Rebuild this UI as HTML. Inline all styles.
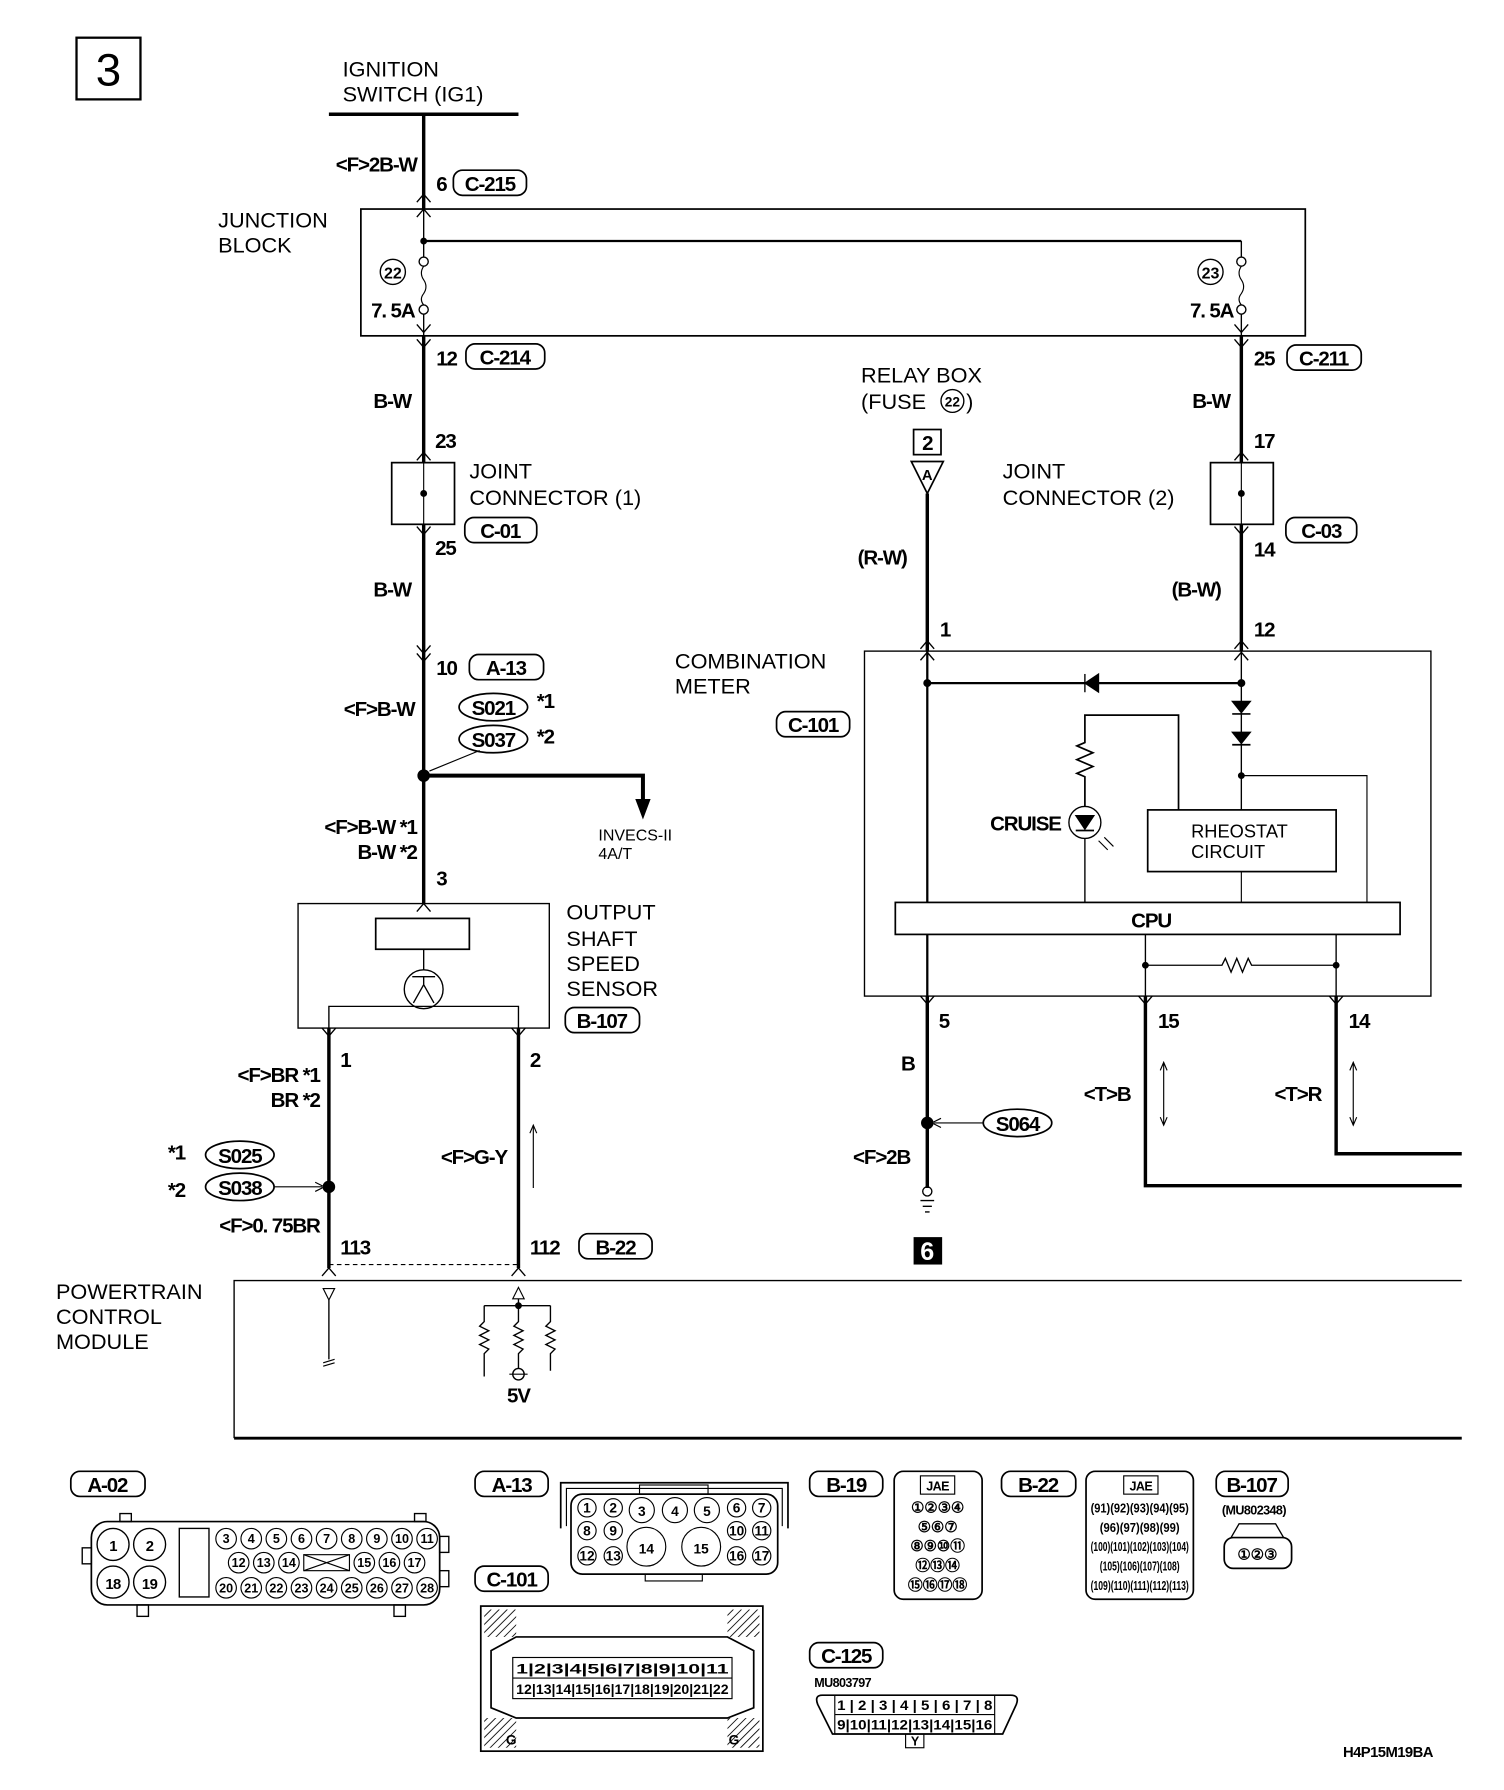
<!DOCTYPE html>
<html><head><meta charset="utf-8"><style>
html,body{margin:0;padding:0;background:#fff;}
svg{display:block}
text{font-family:"Liberation Sans",sans-serif;fill:#000}
.n{font-size:19px}
.c{font-size:18px;font-weight:bold;letter-spacing:-1px}
.s{font-size:13px;font-weight:bold;letter-spacing:-0.5px}
.t{font-size:11px;font-weight:bold;letter-spacing:-0.5px}
</style></head><body>
<svg width="1504" height="1790" viewBox="0 0 1317 1567" preserveAspectRatio="none" xmlns="http://www.w3.org/2000/svg" stroke="#000" fill="none">
<!-- title box -->
<rect x="67" y="33" width="56" height="54" stroke-width="2"/>
<text x="95" y="75" font-size="40" text-anchor="middle" stroke="none">3</text>

<!-- ignition -->
<text x="300" y="67" class="n" stroke="none">IGNITION</text>
<text x="300" y="89" class="n" stroke="none">SWITCH (IG1)</text>
<line x1="288" y1="100" x2="454" y2="100" stroke-width="3"/>
<line x1="371" y1="100" x2="371" y2="183" stroke-width="3"/>
<text x="365" y="150" class="c" text-anchor="end" stroke="none">&lt;F&gt;2B-W</text>
<text x="382" y="167" class="c" stroke="none">6</text>
<rect x="397" y="149" width="64" height="22" rx="8" stroke-width="1.5"/>
<text x="429" y="167" class="c" text-anchor="middle" stroke="none">C-215</text>
<path d="M365 177 L371 170 L377 177 M365 190 L371 183 L377 190" stroke-width="1.2"/>

<!-- junction block -->
<text x="191" y="199" class="n" stroke="none">JUNCTION</text>
<text x="191" y="221" class="n" stroke="none">BLOCK</text>
<rect x="316" y="183" width="827" height="111" stroke-width="1.5"/>
<line x1="371" y1="183" x2="371" y2="225" stroke-width="1.2"/>
<line x1="371" y1="211" x2="1087" y2="211" stroke-width="2"/>
<circle cx="371" cy="211" r="2.5" fill="#000"/>
<line x1="1087" y1="211" x2="1087" y2="225" stroke-width="1.2"/>
<circle cx="371" cy="229" r="4" stroke-width="1.2"/>
<path d="M371 233 q-4 6 0 12 q4 6 0 12 q-4 5 0 10" stroke-width="1"/>
<circle cx="371" cy="271" r="4" stroke-width="1.2"/>
<line x1="371" y1="275" x2="371" y2="294" stroke-width="1.2"/>
<circle cx="344" cy="238" r="11" stroke-width="1.2"/>
<text x="344" y="244" text-anchor="middle" stroke="none" font-size="14" font-weight="bold">22</text>
<text x="325" y="278" class="c" stroke="none">7. 5A</text>
<circle cx="1087" cy="229" r="4" stroke-width="1.2"/>
<path d="M1087 233 q-4 6 0 12 q4 6 0 12 q-4 5 0 10" stroke-width="1"/>
<circle cx="1087" cy="271" r="4" stroke-width="1.2"/>
<line x1="1087" y1="275" x2="1087" y2="294" stroke-width="1.2"/>
<circle cx="1060" cy="238" r="11" stroke-width="1.2"/>
<text x="1060" y="244" text-anchor="middle" stroke="none" font-size="14" font-weight="bold">23</text>
<text x="1042" y="278" class="c" stroke="none">7. 5A</text>
<path d="M365 284 L371 291 L377 284 M365 297 L371 304 L377 297" stroke-width="1.2"/>
<path d="M1081 284 L1087 291 L1093 284 M1081 297 L1087 304 L1093 297" stroke-width="1.2"/>

<!-- left column -->
<line x1="371" y1="294" x2="371" y2="405" stroke-width="3"/>
<text x="382" y="320" class="c" stroke="none">12</text>
<rect x="408" y="301" width="69" height="22" rx="8" stroke-width="1.5"/>
<text x="442" y="319" class="c" text-anchor="middle" stroke="none">C-214</text>
<text x="327" y="357" class="c" stroke="none">B-W</text>
<text x="381" y="392" class="c" stroke="none">23</text>
<path d="M365 403 L371 396 L377 403" stroke-width="1.2"/>
<rect x="343" y="405" width="55" height="54" stroke-width="1.5"/>
<line x1="371" y1="405" x2="371" y2="459" stroke-width="1"/>
<circle cx="371" cy="432" r="2.5" fill="#000"/>
<text x="411" y="419" class="n" stroke="none">JOINT</text>
<text x="411" y="442" class="n" stroke="none">CONNECTOR (1)</text>
<rect x="407" y="453" width="63" height="22" rx="8" stroke-width="1.5"/>
<text x="438" y="471" class="c" text-anchor="middle" stroke="none">C-01</text>
<text x="381" y="486" class="c" stroke="none">25</text>
<path d="M365 461 L371 468 L377 461" stroke-width="1.2"/>
<line x1="371" y1="459" x2="371" y2="791" stroke-width="3"/>
<text x="327" y="522" class="c" stroke="none">B-W</text>
<path d="M365 565 L371 572 L377 565 M365 572 L371 579 L377 572" stroke-width="1.2"/>
<text x="382" y="591" class="c" stroke="none">10</text>
<rect x="411" y="573" width="65" height="22" rx="8" stroke-width="1.5"/>
<text x="443" y="591" class="c" text-anchor="middle" stroke="none">A-13</text>
<text x="363" y="627" class="c" text-anchor="end" stroke="none">&lt;F&gt;B-W</text>
<ellipse cx="432" cy="619" rx="30" ry="12" stroke-width="1.5"/>
<text x="432" y="626" class="c" text-anchor="middle" stroke="none">S021</text>
<text x="470" y="620" class="c" stroke="none">*1</text>
<ellipse cx="432" cy="647" rx="30" ry="12" stroke-width="1.5"/>
<text x="432" y="654" class="c" text-anchor="middle" stroke="none">S037</text>
<text x="470" y="651" class="c" stroke="none">*2</text>
<line x1="420" y1="657" x2="376" y2="675" stroke-width="1"/>
<circle cx="371" cy="679" r="5" fill="#000"/>
<path d="M371 679 H563 V700" stroke-width="3.5"/>
<path d="M557 700 L569 700 L563 716 Z" fill="#000"/>
<text x="524" y="736" font-size="14" stroke="none">INVECS-II</text>
<text x="524" y="752" font-size="14" stroke="none">4A/T</text>
<text x="365" y="730" class="c" text-anchor="end" stroke="none">&lt;F&gt;B-W *1</text>
<text x="365" y="752" class="c" text-anchor="end" stroke="none">B-W *2</text>
<text x="382" y="775" class="c" stroke="none">3</text>
<path d="M365 798 L371 791 L377 798" stroke-width="1.2"/>

<!-- sensor -->
<rect x="261" y="791" width="220" height="109" stroke-width="1.2"/>
<rect x="329" y="804" width="82" height="27" stroke-width="1.5"/>
<line x1="371" y1="831" x2="371" y2="849" stroke-width="1.2"/>
<circle cx="371" cy="866" r="17" stroke-width="1.2"/>
<path d="M361 855 H381 M371 855 V862 M371 862 L362 878 M371 862 L380 878" stroke-width="1.2"/>
<path d="M288 900 V881 H454 V900" stroke-width="1.2"/>
<text x="496" y="805" class="n" stroke="none">OUTPUT</text>
<text x="496" y="828" class="n" stroke="none">SHAFT</text>
<text x="496" y="850" class="n" stroke="none">SPEED</text>
<text x="496" y="872" class="n" stroke="none">SENSOR</text>
<rect x="495" y="882" width="65" height="22" rx="8" stroke-width="1.5"/>
<text x="527" y="900" class="c" text-anchor="middle" stroke="none">B-107</text>
<path d="M282 900 L288 907 L294 900 M448 900 L454 907 L460 900" stroke-width="1.2"/>
<line x1="288" y1="900" x2="288" y2="1110" stroke-width="3"/>
<line x1="454" y1="900" x2="454" y2="1110" stroke-width="3"/>
<text x="298" y="934" class="c" stroke="none">1</text>
<text x="464" y="934" class="c" stroke="none">2</text>
<text x="280" y="947" class="c" text-anchor="end" stroke="none">&lt;F&gt;BR *1</text>
<text x="280" y="969" class="c" text-anchor="end" stroke="none">BR *2</text>
<text x="147" y="1015" class="c" stroke="none">*1</text>
<text x="147" y="1048" class="c" stroke="none">*2</text>
<ellipse cx="210" cy="1011" rx="30" ry="12" stroke-width="1.5"/>
<text x="210" y="1018" class="c" text-anchor="middle" stroke="none">S025</text>
<ellipse cx="210" cy="1039" rx="30" ry="12" stroke-width="1.5"/>
<text x="210" y="1046" class="c" text-anchor="middle" stroke="none">S038</text>
<line x1="240" y1="1039" x2="282" y2="1039" stroke-width="1"/>
<path d="M276 1035 L284 1039 L276 1043" stroke-width="1"/>
<circle cx="288" cy="1039" r="5" fill="#000"/>
<text x="280" y="1079" class="c" text-anchor="end" stroke="none">&lt;F&gt;0. 75BR</text>
<text x="444" y="1019" class="c" text-anchor="end" stroke="none">&lt;F&gt;G-Y</text>
<line x1="467" y1="985" x2="467" y2="1040" stroke-width="1"/>
<path d="M464 992 L467 985 L470 992" stroke-width="1"/>
<text x="298" y="1098" class="c" stroke="none">113</text>
<text x="464" y="1098" class="c" stroke="none">112</text>
<rect x="507" y="1080" width="64" height="22" rx="8" stroke-width="1.5"/>
<text x="539" y="1098" class="c" text-anchor="middle" stroke="none">B-22</text>
<line x1="288" y1="1107" x2="454" y2="1107" stroke-width="1" stroke-dasharray="4,3"/>
<path d="M282 1117 L288 1110 L294 1117 M448 1117 L454 1110 L460 1117" stroke-width="1.2"/>

<!-- PCM -->
<text x="49" y="1137" class="n" stroke="none">POWERTRAIN</text>
<text x="49" y="1159" class="n" stroke="none">CONTROL</text>
<text x="49" y="1181" class="n" stroke="none">MODULE</text>
<path d="M1280 1121 H205 V1259" stroke-width="1.2"/>
<line x1="205" y1="1259" x2="1280" y2="1259" stroke-width="2.5"/>
<path d="M283 1128 L293 1128 L288 1138 Z" stroke-width="1"/>
<line x1="288" y1="1138" x2="288" y2="1190" stroke-width="1.2"/>
<path d="M283 1193 L293 1190 M283 1196 L293 1193" stroke-width="1"/>
<path d="M449 1137 L459 1137 L454 1127 Z" stroke-width="1"/>
<line x1="454" y1="1137" x2="454" y2="1143" stroke-width="1.2"/>
<circle cx="454" cy="1143" r="2.5" fill="#000"/>
<line x1="424" y1="1143" x2="482" y2="1143" stroke-width="1.2"/>
<path d="M424 1143 V1157 l-4 4 l8 4 l-8 4 l8 4 l-8 4 l8 4 l-4 4 V1205" stroke-width="1.2"/>
<path d="M454 1143 V1157 l-4 4 l8 4 l-8 4 l8 4 l-8 4 l8 4 l-4 4 V1198" stroke-width="1.2"/>
<path d="M482 1143 V1157 l-4 4 l8 4 l-8 4 l8 4 l-8 4 l8 4 l-4 4 V1200" stroke-width="1.2"/>
<circle cx="454" cy="1203" r="5" stroke-width="1.2"/>
<line x1="446" y1="1203" x2="462" y2="1203" stroke-width="1"/>
<text x="454" y="1228" class="c" text-anchor="middle" stroke="none">5V</text>

<!-- right column -->
<line x1="1087" y1="294" x2="1087" y2="405" stroke-width="3"/>
<text x="1098" y="320" class="c" stroke="none">25</text>
<rect x="1127" y="302" width="65" height="22" rx="8" stroke-width="1.5"/>
<text x="1159" y="320" class="c" text-anchor="middle" stroke="none">C-211</text>
<text x="1044" y="357" class="c" stroke="none">B-W</text>
<text x="1098" y="392" class="c" stroke="none">17</text>
<path d="M1081 403 L1087 396 L1093 403" stroke-width="1.2"/>
<rect x="1060" y="405" width="55" height="54" stroke-width="1.5"/>
<line x1="1087" y1="405" x2="1087" y2="459" stroke-width="1"/>
<circle cx="1087" cy="432" r="2.5" fill="#000"/>
<text x="878" y="419" class="n" stroke="none">JOINT</text>
<text x="878" y="442" class="n" stroke="none">CONNECTOR (2)</text>
<rect x="1126" y="453" width="62" height="22" rx="8" stroke-width="1.5"/>
<text x="1157" y="471" class="c" text-anchor="middle" stroke="none">C-03</text>
<text x="1098" y="487" class="c" stroke="none">14</text>
<path d="M1081 461 L1087 468 L1093 461" stroke-width="1.2"/>
<line x1="1087" y1="459" x2="1087" y2="570" stroke-width="3"/>
<text x="1026" y="522" class="c" stroke="none">(B-W)</text>
<text x="1098" y="557" class="c" stroke="none">12</text>
<path d="M1081 568 L1087 561 L1093 568 M1081 578 L1087 571 L1093 578" stroke-width="1.2"/>

<!-- relay box -->
<text x="754" y="335" class="n" stroke="none">RELAY BOX</text>
<text x="754" y="358" class="n" stroke="none">(FUSE</text>
<circle cx="834" cy="351" r="10" stroke-width="1.2"/>
<text x="834" y="356" font-size="12" font-weight="bold" text-anchor="middle" stroke="none">22</text>
<text x="846" y="358" class="n" stroke="none">)</text>
<rect x="800" y="376" width="24" height="22" stroke-width="1.5"/>
<text x="812" y="394" class="c" text-anchor="middle" stroke="none">2</text>
<path d="M798 404 L826 404 L812 432 Z" stroke-width="1.5"/>
<text x="812" y="420" font-size="13" font-weight="bold" text-anchor="middle" stroke="none">A</text>
<line x1="812" y1="432" x2="812" y2="570" stroke-width="3"/>
<text x="751" y="494" class="c" stroke="none">(R-W)</text>
<text x="823" y="557" class="c" stroke="none">1</text>
<path d="M806 568 L812 561 L818 568 M806 578 L812 571 L818 578" stroke-width="1.2"/>

<!-- combination meter -->
<text x="591" y="585" class="n" stroke="none">COMBINATION</text>
<text x="591" y="607" class="n" stroke="none">METER</text>
<rect x="680" y="623" width="64" height="22" rx="8" stroke-width="1.5"/>
<text x="712" y="641" class="c" text-anchor="middle" stroke="none">C-101</text>
<rect x="757" y="570" width="496" height="302" stroke-width="1.2"/>
<line x1="812" y1="570" x2="812" y2="790" stroke-width="2"/>
<line x1="812" y1="598" x2="1087" y2="598" stroke-width="2"/>
<circle cx="812" cy="598" r="3" fill="#000"/>
<circle cx="1087" cy="598" r="3" fill="#000"/>
<path d="M950 598 L962 590 L962 606 Z" fill="#000"/>
<line x1="950" y1="590" x2="950" y2="606" stroke-width="1.2"/>
<line x1="1087" y1="570" x2="1087" y2="709" stroke-width="1.2"/>
<path d="M1079 614 L1095 614 L1087 624 Z" fill="#000"/><line x1="1079" y1="625" x2="1095" y2="625" stroke-width="1.5"/>
<path d="M1079 641 L1095 641 L1087 651 Z" fill="#000"/><line x1="1079" y1="652" x2="1095" y2="652" stroke-width="1.5"/>
<circle cx="1087" cy="679" r="2.5" fill="#000"/>
<path d="M1087 679 H1197 V790" stroke-width="1"/>
<path d="M1032 709 V626 H950 V650 l-7 3 l14 6 l-14 6 l14 6 l-14 6 l7 3 V706" stroke-width="1.5"/>
<circle cx="950" cy="720" r="14" stroke-width="1.2"/>
<path d="M942 714 L958 714 L950 726 Z" fill="#000"/>
<line x1="942" y1="727" x2="958" y2="727" stroke-width="1.5"/>
<path d="M962 736 L970 744 M967 733 L975 741" stroke-width="1"/>
<line x1="950" y1="734" x2="950" y2="790" stroke-width="1.2"/>
<text x="867" y="727" class="c" stroke="none">CRUISE</text>
<rect x="1005" y="709" width="165" height="54" stroke-width="1.5"/>
<text x="1043" y="733" font-size="16" stroke="none">RHEOSTAT</text>
<text x="1043" y="751" font-size="16" stroke="none">CIRCUIT</text>
<line x1="1087" y1="763" x2="1087" y2="790" stroke-width="1"/>
<rect x="784" y="790" width="442" height="28" stroke-width="1.5"/>
<text x="1008" y="812" class="c" text-anchor="middle" stroke="none">CPU</text>
<line x1="812" y1="818" x2="812" y2="1040" stroke-width="2"/>
<line x1="812" y1="872" x2="812" y2="1040" stroke-width="3"/>
<line x1="1003" y1="818" x2="1003" y2="872" stroke-width="1.2"/>
<line x1="1170" y1="818" x2="1170" y2="872" stroke-width="1.2"/>
<path d="M1003 845 H1070 l3 -6 l5 12 l5 -12 l5 12 l5 -12 l3 6 H1170" stroke-width="1.2"/>
<circle cx="1003" cy="845" r="2.5" fill="#000"/><circle cx="1170" cy="845" r="2.5" fill="#000"/>
<path d="M1003 872 V1038 H1280" stroke-width="3"/>
<path d="M1170 872 V1010 H1280" stroke-width="3"/>
<path d="M806 872 L812 879 L818 872 M997 872 L1003 879 L1009 872 M1164 872 L1170 879 L1176 872" stroke-width="1.2"/>
<text x="822" y="900" class="c" stroke="none">5</text>
<text x="1014" y="900" class="c" stroke="none">15</text>
<text x="1181" y="900" class="c" stroke="none">14</text>
<text x="789" y="937" class="c" stroke="none">B</text>
<circle cx="812" cy="983" r="5" fill="#000"/>
<ellipse cx="891" cy="983" rx="30" ry="12" stroke-width="1.5"/>
<text x="891" y="990" class="c" text-anchor="middle" stroke="none">S064</text>
<line x1="861" y1="983" x2="818" y2="983" stroke-width="1"/>
<path d="M824 979 L816 983 L824 987" stroke-width="1"/>
<text x="747" y="1019" class="c" stroke="none">&lt;F&gt;2B</text>
<circle cx="812" cy="1043" r="4" stroke-width="1.2"/>
<path d="M806 1051 H818 M808 1056 H816 M810 1061 H814" stroke-width="1.2"/>
<rect x="800" y="1083" width="25" height="24" fill="#000" stroke="none"/>
<text x="812" y="1103" font-size="22" font-weight="bold" text-anchor="middle" stroke="none" style="fill:#fff">6</text>
<text x="949" y="964" class="c" stroke="none">&lt;T&gt;B</text>
<path d="M1019 930 V985 M1016 937 L1019 930 L1022 937 M1016 978 L1019 985 L1022 978" stroke-width="1"/>
<text x="1116" y="964" class="c" stroke="none">&lt;T&gt;R</text>
<path d="M1185 930 V985 M1182 937 L1185 930 L1188 937 M1182 978 L1185 985 L1188 978" stroke-width="1"/>

<!-- connectors -->
<g stroke-width="1.2">
<rect x="62" y="1288" width="65" height="22" rx="8" stroke-width="1.5"/>
<text x="94" y="1306" class="c" text-anchor="middle" stroke="none">A-02</text>
<rect x="80" y="1332" width="305" height="73" rx="14" stroke-width="1.5"/>
<rect x="105" y="1325" width="10" height="7"/><rect x="363" y="1325" width="10" height="7"/>
<rect x="120" y="1405" width="10" height="10"/><rect x="345" y="1405" width="10" height="10"/>
<rect x="72" y="1355" width="8" height="14"/><rect x="385" y="1345" width="8" height="14"/><rect x="385" y="1375" width="8" height="14"/>
<circle cx="99" cy="1352" r="14"/><circle cx="131" cy="1352" r="14"/>
<circle cx="99" cy="1385" r="14"/><circle cx="131" cy="1385" r="14"/>
<text x="99" y="1358" class="s" text-anchor="middle" stroke="none">1</text>
<text x="131" y="1358" class="s" text-anchor="middle" stroke="none">2</text>
<text x="99" y="1391" class="s" text-anchor="middle" stroke="none">18</text>
<text x="131" y="1391" class="s" text-anchor="middle" stroke="none">19</text>
<rect x="157" y="1338" width="26" height="60"/>
</g>
<g stroke-width="1">
<circle cx="198" cy="1347" r="9"/><circle cx="220" cy="1347" r="9"/><circle cx="242" cy="1347" r="9"/><circle cx="264" cy="1347" r="9"/><circle cx="286" cy="1347" r="9"/><circle cx="308" cy="1347" r="9"/><circle cx="330" cy="1347" r="9"/><circle cx="352" cy="1347" r="9"/><circle cx="374" cy="1347" r="9"/>
<circle cx="209" cy="1368" r="9"/><circle cx="231" cy="1368" r="9"/><circle cx="253" cy="1368" r="9"/><rect x="266" y="1361" width="40" height="14"/><path d="M266 1361 L306 1375 M306 1361 L266 1375"/><circle cx="319" cy="1368" r="9"/><circle cx="341" cy="1368" r="9"/><circle cx="363" cy="1368" r="9"/>
<circle cx="198" cy="1390" r="9"/><circle cx="220" cy="1390" r="9"/><circle cx="242" cy="1390" r="9"/><circle cx="264" cy="1390" r="9"/><circle cx="286" cy="1390" r="9"/><circle cx="308" cy="1390" r="9"/><circle cx="330" cy="1390" r="9"/><circle cx="352" cy="1390" r="9"/><circle cx="374" cy="1390" r="9"/>
</g>
<g stroke="none" text-anchor="middle" font-size="11" font-weight="bold">
<text x="198" y="1351">3</text><text x="220" y="1351">4</text><text x="242" y="1351">5</text><text x="264" y="1351">6</text><text x="286" y="1351">7</text><text x="308" y="1351">8</text><text x="330" y="1351">9</text><text x="352" y="1351">10</text><text x="374" y="1351">11</text>
<text x="209" y="1372">12</text><text x="231" y="1372">13</text><text x="253" y="1372">14</text><text x="319" y="1372">15</text><text x="341" y="1372">16</text><text x="363" y="1372">17</text>
<text x="198" y="1394">20</text><text x="220" y="1394">21</text><text x="242" y="1394">22</text><text x="264" y="1394">23</text><text x="286" y="1394">24</text><text x="308" y="1394">25</text><text x="330" y="1394">26</text><text x="352" y="1394">27</text><text x="374" y="1394">28</text>
</g>

<!-- A-13 -->
<rect x="416" y="1288" width="64" height="22" rx="8" stroke-width="1.5"/>
<text x="448" y="1306" class="c" text-anchor="middle" stroke="none">A-13</text>
<path d="M491 1338 V1298 H690 V1338" stroke-width="1.5"/>
<path d="M496 1336 V1303 H685 V1336" stroke-width="1"/>
<rect x="500" y="1308" width="181" height="70" rx="10" stroke-width="1.5"/>
<rect x="560" y="1300" width="60" height="8" stroke-width="1"/>
<rect x="565" y="1378" width="50" height="6" stroke-width="1"/>
<g stroke-width="1">
<circle cx="514" cy="1320" r="8"/><circle cx="537" cy="1320" r="8"/><circle cx="562" cy="1322" r="11"/><circle cx="591" cy="1322" r="11"/><circle cx="619" cy="1322" r="11"/><circle cx="645" cy="1320" r="8"/><circle cx="667" cy="1320" r="8"/>
<circle cx="514" cy="1340" r="8"/><circle cx="537" cy="1340" r="8"/><circle cx="645" cy="1340" r="8"/><circle cx="667" cy="1340" r="8"/>
<circle cx="514" cy="1362" r="8"/><circle cx="537" cy="1362" r="8"/><circle cx="566" cy="1354" r="17"/><circle cx="614" cy="1354" r="17"/><circle cx="645" cy="1362" r="8"/><circle cx="667" cy="1362" r="8"/>
</g>
<g stroke="none" text-anchor="middle" font-size="12" font-weight="bold">
<text x="514" y="1324">1</text><text x="537" y="1324">2</text><text x="562" y="1327">3</text><text x="591" y="1327">4</text><text x="619" y="1327">5</text><text x="645" y="1324">6</text><text x="667" y="1324">7</text>
<text x="514" y="1344">8</text><text x="537" y="1344">9</text><text x="645" y="1344">10</text><text x="667" y="1344">11</text>
<text x="514" y="1366">12</text><text x="537" y="1366">13</text><text x="566" y="1360">14</text><text x="614" y="1360">15</text><text x="645" y="1366">16</text><text x="667" y="1366">17</text>
</g>

<!-- C-101 -->
<rect x="416" y="1371" width="64" height="22" rx="8" stroke-width="1.5"/>
<text x="448" y="1389" class="c" text-anchor="middle" stroke="none">C-101</text>
<rect x="421" y="1406" width="247" height="127" stroke-width="1.5"/>
<pattern id="h" width="5" height="5" patternUnits="userSpaceOnUse" patternTransform="rotate(45)"><line x1="0" y1="0" x2="0" y2="5" stroke="#000" stroke-width="1.5"/></pattern>
<rect x="424" y="1409" width="28" height="24" fill="url(#h)" stroke="none"/>
<rect x="637" y="1409" width="28" height="24" fill="url(#h)" stroke="none"/>
<rect x="424" y="1504" width="28" height="26" fill="url(#h)" stroke="none"/>
<rect x="637" y="1504" width="28" height="26" fill="url(#h)" stroke="none"/>
<path d="M452 1433 H637 L660 1445 V1495 L637 1504 H452 L430 1495 V1445 Z" stroke-width="1.5"/>
<rect x="449" y="1451" width="192" height="36" stroke-width="1"/>
<line x1="449" y1="1469" x2="641" y2="1469" stroke-width="1"/>
<g stroke="none" font-size="12" font-weight="bold">
<text x="452" y="1465" textLength="186" lengthAdjust="spacingAndGlyphs">1|2|3|4|5|6|7|8|9|10|11</text>
<text x="452" y="1483" textLength="186" lengthAdjust="spacingAndGlyphs">12|13|14|15|16|17|18|19|20|21|22</text>
<text x="443" y="1527">G</text><text x="638" y="1527">G</text>
</g>

<!-- B-19 -->
<rect x="709" y="1288" width="64" height="22" rx="8" stroke-width="1.5"/>
<text x="741" y="1306" class="c" text-anchor="middle" stroke="none">B-19</text>
<rect x="783" y="1288" width="77" height="112" rx="8" stroke-width="1.5"/>
<rect x="806" y="1292" width="30" height="16" stroke-width="1"/>
<text x="821" y="1305" class="t" text-anchor="middle" stroke="none">JAE</text>
<g stroke="none" font-size="13" font-weight="bold" text-anchor="middle">
<text x="821" y="1324">①②③④</text><text x="821" y="1341">⑤⑥⑦</text><text x="821" y="1358">⑧⑨⑩⑪</text><text x="821" y="1375">⑫⑬⑭</text><text x="821" y="1392">⑮⑯⑰⑱</text>
</g>
<!-- B-22 -->
<rect x="877" y="1288" width="65" height="22" rx="8" stroke-width="1.5"/>
<text x="909" y="1306" class="c" text-anchor="middle" stroke="none">B-22</text>
<rect x="951" y="1288" width="94" height="112" rx="8" stroke-width="1.5"/>
<rect x="984" y="1292" width="30" height="16" stroke-width="1"/>
<text x="999" y="1305" class="t" text-anchor="middle" stroke="none">JAE</text>
<g stroke="none" font-size="11" font-weight="bold" text-anchor="middle">
<text x="998" y="1324" textLength="86" lengthAdjust="spacingAndGlyphs">(91)(92)(93)(94)(95)</text>
<text x="998" y="1341" textLength="70" lengthAdjust="spacingAndGlyphs">(96)(97)(98)(99)</text>
<text x="998" y="1358" textLength="86" lengthAdjust="spacingAndGlyphs">(100)(101)(102)(103)(104)</text>
<text x="998" y="1375" textLength="70" lengthAdjust="spacingAndGlyphs">(105)(106)(107)(108)</text>
<text x="998" y="1392" textLength="86" lengthAdjust="spacingAndGlyphs">(109)(110)(111)(112)(113)</text>
</g>
<!-- B-107 -->
<rect x="1065" y="1288" width="63" height="22" rx="8" stroke-width="1.5"/>
<text x="1096" y="1306" class="c" text-anchor="middle" stroke="none">B-107</text>
<text x="1070" y="1326" class="t" stroke="none">(MU802348)</text>
<path d="M1078 1346 L1085 1334 H1117 L1124 1346" stroke-width="1.2"/>
<rect x="1072" y="1346" width="59" height="27" rx="8" stroke-width="1.5"/>
<text x="1101" y="1365" font-size="13" font-weight="bold" text-anchor="middle" stroke="none">①②③</text>
<!-- C-125 -->
<rect x="709" y="1438" width="64" height="22" rx="8" stroke-width="1.5"/>
<text x="741" y="1456" class="c" text-anchor="middle" stroke="none">C-125</text>
<text x="713" y="1477" class="t" stroke="none">MU803797</text>
<path d="M720 1484 H885 Q893 1484 890 1492 L878 1518 H729 L716 1492 Q713 1484 720 1484 Z" stroke-width="1.5"/>
<rect x="731" y="1484" width="140" height="34" stroke-width="1"/>
<line x1="731" y1="1501" x2="871" y2="1501" stroke-width="1"/>
<g stroke="none" font-size="12" font-weight="bold">
<text x="733" y="1497" textLength="136" lengthAdjust="spacingAndGlyphs">1 | 2 | 3 | 4 | 5 | 6 | 7 | 8</text>
<text x="733" y="1514" textLength="136" lengthAdjust="spacingAndGlyphs">9|10|11|12|13|14|15|16</text>
</g>
<rect x="793" y="1518" width="16" height="12" stroke-width="1"/>
<text x="801" y="1528" class="t" text-anchor="middle" stroke="none">Y</text>
<text x="1176" y="1538" class="s" stroke="none">H4P15M19BA</text>
</svg>
</body></html>
